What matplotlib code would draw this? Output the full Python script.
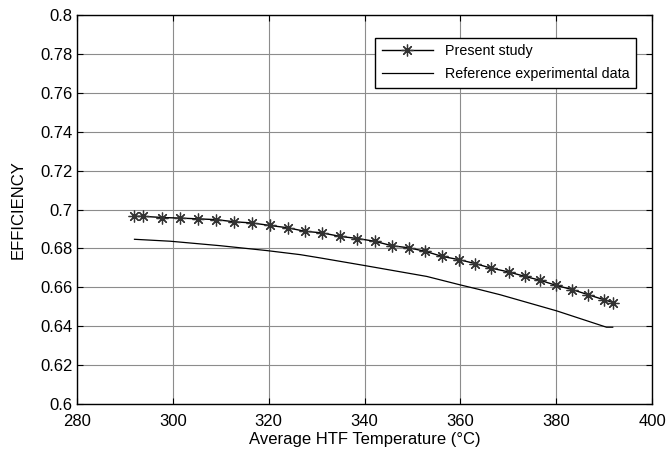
import numpy as np
import matplotlib
matplotlib.use("Agg")
import matplotlib.pyplot as plt
from matplotlib.ticker import FuncFormatter

plt.rcParams['font.family'] = ['Liberation Sans', 'DejaVu Sans']

# Present study
temp_model = [291.9, 293.8, 297.8, 301.5, 305.3, 309.1, 312.8, 316.5, 320.3, 324.0,
              327.6, 331.1, 334.9, 338.5, 342.1, 345.7, 349.3, 352.7, 356.2, 359.8,
              363.1, 366.4, 370.1, 373.5, 376.7, 380.0, 383.4, 386.7, 390.0, 391.9]
eff_model = [0.6965, 0.6965, 0.6959, 0.6956, 0.6952, 0.6948, 0.6937, 0.6931, 0.6918, 0.6906,
             0.6888, 0.6880, 0.6862, 0.6851, 0.6837, 0.6814, 0.6803, 0.6785, 0.6759, 0.6742,
             0.6722, 0.6699, 0.6679, 0.6656, 0.6636, 0.6610, 0.6588, 0.6562, 0.6536, 0.6522]

# Reference experimental data
temp_ref = [292.0, 299.5, 309.9, 319.6, 326.6, 330.8, 339.8, 353.0, 359.9, 364.1,
            368.3, 380.1, 390.5, 391.8]
eff_ref = [0.6847, 0.6837, 0.6814, 0.6789, 0.6768, 0.6751, 0.6713, 0.6656, 0.6613, 0.6588,
           0.6562, 0.6479, 0.6395, 0.6395]

fig = plt.figure(figsize=(6.66, 4.55), dpi=100)
ax = fig.add_axes([0.1156, 0.112, 0.8634, 0.855])

ax.plot(temp_model, eff_model, color='black', lw=1.0, marker=(8, 2, 0),
        markersize=8.5, markeredgecolor='#333333', markeredgewidth=0.9,
        label='Present study')
ax.plot(temp_ref, eff_ref, color='black', lw=0.9, label='Reference experimental data')

ax.set_xlim(280, 400)
ax.set_ylim(0.6, 0.8)
ax.set_xticks(np.arange(280, 401, 20))
ax.set_yticks(np.arange(0.6, 0.8001, 0.02))
ax.yaxis.set_major_formatter(FuncFormatter(lambda v, p: '%g' % round(v, 2)))
ax.grid(True, color='#8c8c8c', lw=0.8)
ax.tick_params(direction='in', top=True, right=True, labelsize=12, length=4, pad=3)
ax.tick_params(axis='x', pad=7)
for s in ax.spines.values():
    s.set_linewidth(1.0)

ax.set_xlabel('Average HTF Temperature (°C)', fontsize=12, labelpad=2)
ax.set_ylabel('EFFICIENCY', fontsize=12, labelpad=11)

leg = ax.legend(loc='upper right', bbox_to_anchor=(0.984, 0.96), fontsize=10.3,
                fancybox=False, framealpha=1, edgecolor='black', borderpad=0.45,
                handlelength=3.6, labelspacing=0.65)
leg.get_frame().set_linewidth(1.0)

fig.savefig('out.png', dpi=100)
